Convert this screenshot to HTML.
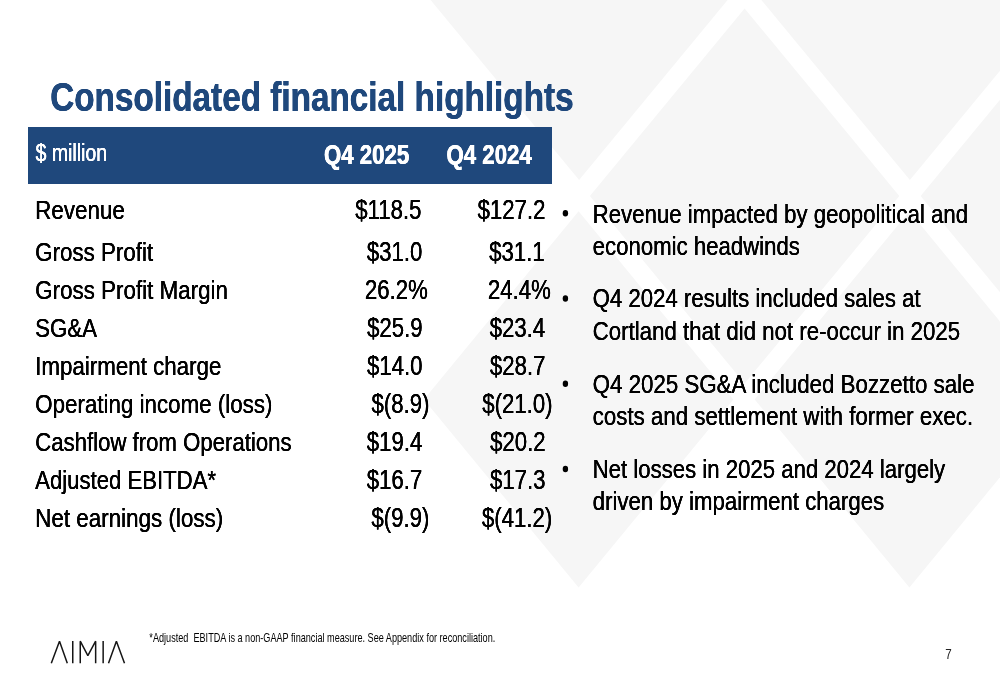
<!DOCTYPE html>
<html lang="en"><head><meta charset="utf-8"><title>Consolidated financial highlights</title>
<style>
html,body{margin:0;padding:0;background:#fff;}
body{width:1000px;height:685px;position:relative;overflow:hidden;font-family:"Liberation Sans",sans-serif;}
#bg{position:absolute;left:0;top:0;width:1000px;height:685px;}
.hdr{position:absolute;left:28px;top:127px;width:523.6px;height:57.3px;background:#1f487c;}
#txt{position:absolute;left:0;top:0;width:1000px;height:685px;will-change:transform;}
.t{position:absolute;left:0;top:0;white-space:nowrap;line-height:1;transform-origin:0 0;margin:0;padding:0;}
.t{text-shadow:0.1px 0 0 currentColor,-0.1px 0 0 currentColor;}
.s{text-shadow:none;}
.b{font-weight:bold;text-shadow:0.35px 0 0 currentColor,-0.35px 0 0 currentColor;}
#logo{position:absolute;left:45px;top:632px;width:90px;height:40px;}
</style></head><body>
<svg id="bg" viewBox="0 0 1000 685" width="1000" height="685"><polygon points="579.1,-195.00 733.8,-7.50 579.1,180.00 424.4,-7.50" fill="#f6f6f6"/><polygon points="909.9,-195.00 1064.6,-7.50 909.9,180.00 755.2,-7.50" fill="#f6f6f6"/><polygon points="744.6,8.50 899.3,196.00 744.6,383.50 589.9,196.00" fill="#f6f6f6"/><polygon points="1075.3,8.50 1230.0,196.00 1075.3,383.50 920.6,196.00" fill="#f6f6f6"/><polygon points="578.6,211.30 733.3,399.45 578.6,587.60 423.9,399.45" fill="#f6f6f6"/><polygon points="909.4,211.30 1064.1,399.40 909.4,587.50 754.7,399.40" fill="#f6f6f6"/><ellipse cx="565.4" cy="213.3" rx="2.7" ry="3.3" fill="#000"/><ellipse cx="565.4" cy="298.5" rx="2.7" ry="3.3" fill="#000"/><ellipse cx="565.4" cy="383.8" rx="2.7" ry="3.3" fill="#000"/><ellipse cx="565.4" cy="469.0" rx="2.7" ry="3.3" fill="#000"/></svg>
<div class="hdr"></div>
<div id="txt">
<div class="t b" style="font-size:41px;color:#1f487c;transform:translate(50.17px,77.00px) scaleX(0.8120)">Consolidated financial highlights</div>
<div class="t" style="font-size:23.5px;color:#fff;transform:translate(35.61px,141.80px) scaleX(0.8297)">$ million</div>
<div class="t b" style="font-size:27.6px;color:#fff;transform:translate(323.93px,140.60px) scaleX(0.8060)">Q4 2025</div>
<div class="t b" style="font-size:27.6px;color:#fff;transform:translate(446.45px,140.60px) scaleX(0.8060)">Q4 2024</div>
<div class="t" style="font-size:26.7px;color:#000;transform:translate(35.20px,196.90px) scaleX(0.8390)">Revenue</div>
<div class="t" style="font-size:27.6px;color:#000;transform:translate(355.21px,195.90px) scaleX(0.8040)">$118.5</div>
<div class="t" style="font-size:27.6px;color:#000;transform:translate(477.59px,195.90px) scaleX(0.8040)">$127.2</div>
<div class="t" style="font-size:26.7px;color:#000;transform:translate(35.20px,238.60px) scaleX(0.8372)">Gross Profit</div>
<div class="t" style="font-size:27.6px;color:#000;transform:translate(366.84px,237.60px) scaleX(0.8040)">$31.0</div>
<div class="t" style="font-size:27.6px;color:#000;transform:translate(489.15px,237.60px) scaleX(0.8040)">$31.1</div>
<div class="t" style="font-size:26.7px;color:#000;transform:translate(35.20px,276.80px) scaleX(0.8385)">Gross Profit Margin</div>
<div class="t" style="font-size:27.6px;color:#000;transform:translate(364.93px,275.80px) scaleX(0.8040)">26.2%</div>
<div class="t" style="font-size:27.6px;color:#000;transform:translate(487.93px,275.80px) scaleX(0.8040)">24.4%</div>
<div class="t" style="font-size:26.7px;color:#000;transform:translate(35.20px,314.70px) scaleX(0.8327)">SG&amp;A</div>
<div class="t" style="font-size:27.6px;color:#000;transform:translate(367.10px,313.70px) scaleX(0.8040)">$25.9</div>
<div class="t" style="font-size:27.6px;color:#000;transform:translate(489.68px,313.70px) scaleX(0.8040)">$23.4</div>
<div class="t" style="font-size:26.7px;color:#000;transform:translate(35.20px,352.70px) scaleX(0.8367)">Impairment charge</div>
<div class="t" style="font-size:27.6px;color:#000;transform:translate(366.99px,351.70px) scaleX(0.8040)">$14.0</div>
<div class="t" style="font-size:27.6px;color:#000;transform:translate(489.91px,351.70px) scaleX(0.8040)">$28.7</div>
<div class="t" style="font-size:26.7px;color:#000;transform:translate(35.20px,390.80px) scaleX(0.8374)">Operating income (loss)</div>
<div class="t" style="font-size:27.6px;color:#000;transform:translate(371.50px,389.80px) scaleX(0.8040)">$(8.9)</div>
<div class="t" style="font-size:27.6px;color:#000;transform:translate(482.29px,389.80px) scaleX(0.8040)">$(21.0)</div>
<div class="t" style="font-size:26.7px;color:#000;transform:translate(35.20px,428.80px) scaleX(0.8310)">Cashflow from Operations</div>
<div class="t" style="font-size:27.6px;color:#000;transform:translate(366.78px,427.80px) scaleX(0.8040)">$19.4</div>
<div class="t" style="font-size:27.6px;color:#000;transform:translate(490.11px,427.80px) scaleX(0.8040)">$20.2</div>
<div class="t" style="font-size:26.7px;color:#000;transform:translate(35.20px,466.80px) scaleX(0.8294)">Adjusted EBITDA*</div>
<div class="t" style="font-size:27.6px;color:#000;transform:translate(366.76px,465.80px) scaleX(0.8040)">$16.7</div>
<div class="t" style="font-size:27.6px;color:#000;transform:translate(489.99px,465.80px) scaleX(0.8040)">$17.3</div>
<div class="t" style="font-size:26.7px;color:#000;transform:translate(35.20px,504.90px) scaleX(0.8394)">Net earnings (loss)</div>
<div class="t" style="font-size:27.6px;color:#000;transform:translate(371.40px,503.90px) scaleX(0.8040)">$(9.9)</div>
<div class="t" style="font-size:27.6px;color:#000;transform:translate(481.94px,503.90px) scaleX(0.8040)">$(41.2)</div>
<div class="t" style="font-size:26.7px;color:#000;transform:translate(592.70px,200.60px) scaleX(0.8323)">Revenue impacted by geopolitical and</div>
<div class="t" style="font-size:26.7px;color:#000;transform:translate(592.70px,233.30px) scaleX(0.8312)">economic headwinds</div>
<div class="t" style="font-size:26.7px;color:#000;transform:translate(592.70px,285.20px) scaleX(0.8309)">Q4 2024 results included sales at</div>
<div class="t" style="font-size:26.7px;color:#000;transform:translate(592.70px,317.80px) scaleX(0.8339)">Cortland that did not re-occur in 2025</div>
<div class="t" style="font-size:26.7px;color:#000;transform:translate(592.70px,370.60px) scaleX(0.8355)">Q4 2025 SG&amp;A included Bozzetto sale</div>
<div class="t" style="font-size:26.7px;color:#000;transform:translate(592.70px,403.30px) scaleX(0.8354)">costs and settlement with former exec.</div>
<div class="t" style="font-size:26.7px;color:#000;transform:translate(592.70px,455.80px) scaleX(0.8306)">Net losses in 2025 and 2024 largely</div>
<div class="t" style="font-size:26.7px;color:#000;transform:translate(592.70px,488.00px) scaleX(0.8327)">driven by impairment charges</div>
<div class="t s" style="font-size:12.2px;color:#000;transform:translate(149.36px,631.70px) scaleX(0.7480)">*Adjusted  EBITDA is a non-GAAP financial measure. See Appendix for reconciliation.</div>
<div class="t s" style="font-size:14.6px;color:#222;transform:translate(945.22px,646.90px) scaleX(0.7978)">7</div>
</div>
<svg id="logo" viewBox="45 632 90 40" width="90" height="40">
<g fill="none" stroke="#151515" stroke-width="1.5" stroke-linejoin="bevel" stroke-linecap="butt">
<path d="M51.3 663.25 L59.5 641.3 L67.3 663.25"/>
<path d="M72.75 641 V663.25"/>
<path d="M80.25 663.25 V641.2 L87.85 655.6 L95.65 641.2 V663.25"/>
<path d="M103.15 641 V663.25"/>
<path d="M108.5 663.25 L116.4 641.3 L124.5 663.25"/>
</g></svg>
</body></html>
